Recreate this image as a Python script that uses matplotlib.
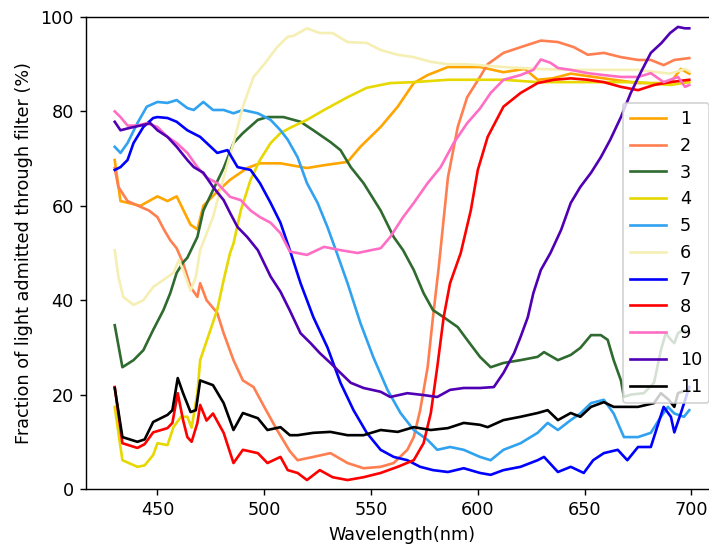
import matplotlib
matplotlib.use("Agg")
import matplotlib.pyplot as plt

# === Transmission curves (wavelength nm, % admitted) ===
filter_1 = [(430, 69.7), (432.7, 61), (442, 60), (450, 62), (454.7, 61), (459, 62), (465.5, 56),
            (468.7, 55), (471.5, 60), (478, 63), (484, 65.5), (492, 68), (498, 69), (507.6, 69),
            (520, 68), (528, 68.6), (539, 69.3), (545, 72.5), (554.5, 76.7), (562.5, 81), (570, 86),
            (576.5, 87.7), (586, 89.4), (601, 89.4), (612, 88.3), (622, 89), (628, 86.7), (635, 87),
            (643.5, 88), (659, 87), (675, 86), (690, 86), (695, 89), (699, 88)]
filter_2 = [(430, 68), (431.7, 64), (436, 61), (441, 60), (446, 59), (450, 57.6), (453, 55), (456, 52.7),
            (459, 51), (462, 47.9), (465.5, 42.8), (468.7, 40.7), (470, 43.6), (473, 40), (478, 37.3),
            (481, 33), (485.6, 27.3), (490, 23), (495, 21.6), (500, 17.4), (506, 12.5), (512, 8),
            (515.6, 6.1), (523, 6.8), (531, 7.6), (539, 5.5), (546.5, 4.4), (554.5, 4.7), (560.6, 5.5),
            (567, 8.3), (570, 11), (573, 16.7), (576.5, 25.8), (579, 36.4), (581.7, 47), (586, 66),
            (590.6, 76.7), (595, 83), (601, 87.3), (604.6, 90), (612, 92.4), (620, 93.6), (629.5, 95),
            (637.5, 94.7), (645, 93.6), (651.5, 92), (659, 92.4), (667, 91.5), (675, 90.9), (681, 90.9),
            (687, 89.8), (692, 90.9), (699, 91.3)]
filter_3 = [(430, 34.7), (433.6, 25.8), (438.8, 27.3), (443.4, 29.4), (448, 33.7), (452.8, 37.9), (456, 41.5),
            (459, 45.8), (462, 48), (464, 49), (468.7, 53.4), (471.5, 59), (476, 63.3), (481, 68),
            (485.6, 73.3), (490, 75.4), (497, 78.2), (501.5, 78.8), (509, 78.8), (517, 77.8), (523, 76),
            (531, 73.5), (535.7, 71.8), (540.5, 68.2), (546.5, 64.8), (554.5, 59), (560.6, 53.4),
            (565, 50.6), (570, 46.4), (574.6, 41.5), (579, 37.9), (584, 36.4), (590.6, 34.3), (595, 31.6),
            (601, 28), (606, 25.8), (612, 26.7), (620, 27.3), (628, 28), (631, 29), (637.5, 27.3),
            (643.5, 28.4), (648, 29.9), (653, 32.6), (657.6, 32.6), (660.8, 31.6), (663.6, 27.3),
            (667, 23), (668.4, 19.5), (671.6, 20), (677.7, 20.3), (682.5, 22.5), (685.7, 29.4), (688, 33),
            (690.4, 31.6), (692, 30.9), (693.7, 33), (696, 33.7), (699, 33)]
filter_4 = [(430, 17.4), (433.6, 6.1), (440.6, 4.7), (444, 5), (448, 7.2), (450, 9.7), (454.7, 9.3),
            (457.5, 13.1), (461, 15.3), (464, 15.3), (466, 13), (468.7, 20.3), (470, 27.3), (474.8, 33.7),
            (478, 38), (481, 44.3), (484, 50), (485.6, 52), (489, 59), (493.6, 65.5), (498, 69.7),
            (503, 73.3), (507.6, 75.4), (512, 76.5), (520, 78.2), (528, 80.3), (539, 83), (548, 85),
            (559, 86), (570, 86.2), (586, 86.7), (601, 86.7), (612, 86.7), (628, 86.2), (643.5, 86.2),
            (659, 86.2), (675, 86.2), (690, 85.6), (699, 86.2)]
filter_5 = [(430, 72.5), (432.7, 71.2), (436, 73.3), (440.6, 77.5), (445, 81), (450, 82), (454.7, 81.8),
            (459, 82.4), (464, 80.7), (467, 80.3), (471.5, 82), (476, 80.3), (481, 80.3), (485.6, 79.6),
            (490, 80.3), (497, 79.6), (503, 78.2), (507.6, 76), (511, 74), (515.6, 70.3), (520, 64.8),
            (525, 60.6), (529.6, 55.5), (534, 50), (539, 43.6), (545, 35.2), (551, 28), (557.7, 21),
            (563.8, 16.1), (570, 12.5), (576.5, 10.4), (581, 8.3), (587, 8.9), (593.4, 8.3), (601, 6.8),
            (606, 6.1), (612, 8.3), (620, 9.7), (628, 11.9), (632.7, 14), (637.5, 12.5), (643.5, 14.6),
            (648, 16), (653, 18.2), (659, 18.9), (663.6, 16), (668.4, 11), (675, 11), (681, 11.9),
            (685.7, 15.3), (689, 17.4), (692, 16), (696.5, 15.3), (699, 16.7)]
filter_6 = [(430, 50.6), (431.7, 45), (434, 40.7), (438.8, 39), (443.4, 40), (448, 42.8), (452.8, 44.3),
            (457.5, 45.8), (460, 48.5), (462, 46.4), (465.5, 42), (468, 45), (470, 50.6), (476, 57.6),
            (481, 66), (485.6, 73.3), (490, 81), (495, 87.3), (500, 90), (506, 93.6), (511, 95.8),
            (513.7, 96), (520, 97.6), (526, 96.6), (532, 96.6), (539, 94.7), (548, 94.5), (554.5, 93),
            (562.5, 92), (570, 91.5), (578, 90.5), (586, 90), (593.4, 90), (601, 89.8), (612, 89.4),
            (628, 89), (643.5, 88.8), (659, 88.8), (675, 88.8), (684, 88.3), (690, 88), (697, 89), (699, 88.5)]
filter_7 = [(430, 67.6), (432.7, 68.2), (436, 69.7), (438.8, 73.3), (443.4, 76.7), (448, 78.6), (450, 78.8),
            (454.7, 78.6), (459, 77.8), (464, 76), (470, 74.6), (478, 71.2), (482.8, 71.8), (487.5, 68.2),
            (493.6, 67.6), (498, 64.8), (503, 60.6), (507.6, 56.4), (512, 50.6), (517, 43.6), (523, 36.4),
            (529.6, 30), (535.7, 22.5), (541.8, 16.7), (548, 11.9), (554.5, 8.3), (560.6, 6.8), (567, 6.1),
            (573, 4.7), (579, 4), (586, 3.6), (593.4, 4.4), (601, 3.4), (606, 3), (612, 4), (620, 4.7),
            (628, 6.1), (631, 6.8), (637.5, 3.6), (643.5, 4.7), (649.6, 3.4), (654, 6.1), (659, 7.6),
            (665.5, 8.3), (670, 6.1), (675, 8.9), (681, 8.9), (687, 17.4), (690.4, 15.3), (692, 12),
            (695, 16), (697.5, 19.5), (699, 21.6)]
filter_8 = [(430, 21.6), (433.6, 9.7), (440.6, 8.7), (444, 9.5), (448, 12), (454.7, 12.9), (457, 14),
            (459.5, 20.3), (462, 14.6), (464, 11), (466, 10), (468.7, 14), (470, 17.8), (473, 14.5),
            (476, 16), (481, 11.9), (485.6, 5.5), (490, 8.3), (497, 7.6), (501.5, 5.5), (507.6, 6.8),
            (511, 4), (515.6, 3.4), (520, 1.9), (526, 4), (532, 2.5), (539, 1.9), (546.5, 2.5),
            (554.5, 3.4), (562.5, 4.7), (570, 6.1), (574.6, 9.7), (578, 16.1), (581, 25.8), (584, 36.4),
            (587, 43.6), (592, 50), (596.7, 59), (600, 67.6), (604.6, 74.6), (612, 81), (620, 83.9),
            (628, 86), (635.6, 86.7), (643.5, 87), (651.5, 86.7), (659, 86.2), (667, 85.2), (675, 84.5),
            (682.5, 85.6), (690, 86.2), (699, 86.7)]
filter_9 = [(430, 80), (432.7, 78.8), (436, 77), (440.6, 77), (445, 77.5), (450, 76.7), (454.7, 74.6),
            (459, 73.3), (464, 71.2), (468.7, 68.2), (473, 66), (478, 64.8), (484, 61.9), (489, 61.2),
            (493.6, 59), (498, 57.6), (503, 56.4), (507.6, 54.2), (512, 50.3), (520, 49.6), (528, 51.3),
            (535.7, 50.6), (543.7, 50), (550, 50.6), (554.5, 51), (559, 53.4), (565, 57.6), (570, 60.6),
            (576.5, 64.8), (582.6, 68.2), (588.7, 73.3), (595, 77.5), (601, 80.6), (606, 83.9), (612, 86.7),
            (620, 87.7), (626, 88.8), (629.5, 91), (634, 90.3), (637.5, 89.2), (643.5, 88.8), (651.5, 88.1),
            (659, 87.7), (667, 87.3), (675, 87.3), (681, 88.1), (687, 86.2), (693.7, 87.3), (697, 85.2),
            (699, 85.6)]
filter_10 = [(430, 77.8), (432.7, 76), (437, 76.5), (442, 77), (446.7, 77.5), (450, 76), (454.7, 74.6),
             (459, 72.5), (464, 69.7), (467, 68.2), (471.5, 67), (476, 64), (481, 61.2), (484, 58.5),
             (487.5, 55.5), (492, 53.4), (497, 50.6), (503, 45), (507.6, 41.8), (512, 37.8), (517, 33),
             (521.7, 30.9), (526, 28.8), (531, 26.7), (535.7, 24.6), (540.5, 22.5), (546.5, 21.4),
             (554.5, 20.6), (559, 19.5), (567, 20.3), (574.6, 19.9), (581, 19.5), (587, 21), (593.4, 21.4),
             (601, 21.4), (607.5, 21.6), (612, 24.6), (617, 28.8), (620, 32.2), (623.4, 36.4), (626, 41.5),
             (629.5, 46.4), (634, 50), (639, 54.9), (643.5, 60.6), (648, 64), (653, 67), (657.6, 70.3),
             (662, 74), (667, 78.8), (671.6, 83.9), (676, 88), (681, 92.4), (686, 94.5), (690, 96.6),
             (693.7, 97.9), (697, 97.6), (699, 97.6)]
filter_11 = [(430, 21.4), (433.6, 11), (440.6, 10), (444, 10.5), (448, 14.2), (454.7, 15.7), (457, 16.7),
             (459.5, 23.5), (462, 20.3), (465.5, 16.3), (468, 16.7), (470, 23), (473, 22.5), (476, 22),
             (481, 18.2), (485.6, 12.5), (490, 16.1), (497, 15), (501.5, 12.5), (507.6, 13.1), (512, 11.4),
             (515.6, 11.4), (523, 11.9), (531, 12.1), (539, 11.4), (546.5, 11.4), (554.5, 12.5),
             (562.5, 12.1), (570, 13.1), (578, 12.5), (586, 12.9), (593.4, 14), (601, 13.6), (604.6, 13.1),
             (612, 14.6), (620, 15.3), (628, 16.1), (632.7, 16.7), (637.5, 14.6), (643.5, 16.1), (648, 15.3),
             (653, 17.4), (659, 18.4), (663.6, 17.4), (668.4, 17.4), (675, 17.4), (682.5, 18.2),
             (685.7, 20.3), (689.4, 18.9), (692, 17.4), (693.7, 20.3), (698, 21)]

filters = [filter_1, filter_2, filter_3, filter_4, filter_5, filter_6,
           filter_7, filter_8, filter_9, filter_10, filter_11]
labels = [str(i) for i in range(1, 12)]
colors = ["orange", "coral", "#2f6a2f", "#e6d800", "#31a2f0", "#f5efb4",
          "blue", "red", "#ff6ec4", "#5000b4", "black"]

# === Plot ===
DPI = 127
fig = plt.figure(figsize=(709 / DPI, 547 / DPI), dpi=DPI)
ax = fig.add_axes([86 / 709, 58 / 547, 632 / 709, 472 / 547])

for data, label, color in zip(filters, labels, colors):
    wl = [p[0] for p in data]
    val = [p[1] for p in data]
    ax.plot(wl, val, color=color, label=label)

ax.set_ylim(0, 100)
ax.set_xlabel("Wavelength(nm)")
ax.set_ylabel("Fraction of light admitted through filter (%)")
ax.legend(loc="center right")

fig.savefig("out.png", dpi=DPI)
